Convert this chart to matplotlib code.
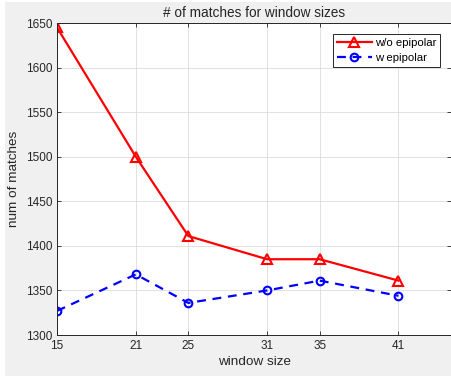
import numpy as np
import matplotlib.pyplot as plt
from matplotlib.patches import Rectangle

plt.rcParams['font.family'] = ['Liberation Sans', 'DejaVu Sans']

window = [15, 21, 25, 31, 35, 41]
no_epi = [1645, 1500, 1411, 1385, 1385, 1361]
with_epi = [1327, 1368, 1336, 1350, 1361, 1344]

W, H = 452, 377
fig = plt.figure(figsize=(W/100, H/100), dpi=100, facecolor='white')
# grey panel behind the axes, like a figure window
fig.add_artist(Rectangle((5/W, 1 - 376/H), 447/W, 374/H, transform=fig.transFigure,
                         facecolor='#f0f0f0', edgecolor='none', zorder=-10))
ax = fig.add_axes([57/W, 1 - 335/H, (451 - 57)/W, (335 - 23)/H])
ax.set_facecolor('white')

ax.plot(window, no_epi, color='red', lw=1.6, marker='^', ms=7, mfc='none',
        mew=1.5, label='w/o epipolar')
ax.plot(window, with_epi, color='blue', lw=1.6, ls=(0, (4, 3)), marker='o', ms=5.5,
        mfc='none', mew=1.5, label='w epipolar')

ax.set_xlim(15, 45)
ax.set_ylim(1300, 1650)
ax.set_xticks(window)
ax.set_yticks(np.arange(1300, 1651, 50))
ax.grid(True, color='#dcdcdc', lw=0.6)
ax.set_axisbelow(True)
ax.tick_params(direction='in', length=3, width=0.6, labelsize=8.5, colors='#262626',
               top=True, right=True)
for s in ax.spines.values():
    s.set_linewidth(0.7)
    s.set_color('#262626')

ax.set_title('# of matches for window sizes', fontsize=9.8, color='#262626', pad=4)
ax.set_xlabel('window size', fontsize=9.7, color='#262626', labelpad=3)
ax.set_ylabel('num of matches', fontsize=9.7, color='#262626', labelpad=4)

leg = ax.legend(loc='upper right', fontsize=8.2, fancybox=False, framealpha=1,
                edgecolor='#262626', borderpad=0.35, handlelength=3.1,
                handletextpad=0.25, labelspacing=0.45, borderaxespad=0.95)
leg.get_frame().set_linewidth(0.7)

fig.savefig('out.png', dpi=100, facecolor=fig.get_facecolor())
